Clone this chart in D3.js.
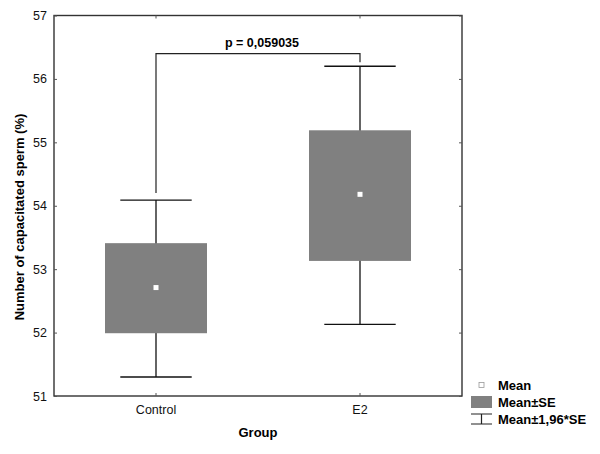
<!DOCTYPE html>
<html>
<head>
<meta charset="utf-8">
<script src="https://cdn.jsdelivr.net/npm/d3@7"></script>
<style>
  body { margin: 0; background: #fff; }
  text { font-family: "Liberation Sans", Arial, sans-serif; }
</style>
</head>
<body>
<div id="chart"></div>
<script>
const width = 600;
const height = 454;

// data
const groups = ["Control", "E2"];
const means = [52.71, 54.18];
const seLow = [51.99, 53.13];
const seHigh = [53.41, 55.19];
const ciLow = [51.30, 52.13];
const ciHigh = [54.09, 56.20];
const yTicks = [51, 52, 53, 54, 55, 56, 57];
const pLabel = "p = 0,059035";
const bracketY = 56.40;
const legendLabels = ["Mean", "Mean±SE", "Mean±1,96*SE"];

const plot = { left: 54, right: 462, top: 15.5, bottom: 396 };

const svg = d3.select("#chart")
    .append("svg")
    .attr("width", width)
    .attr("height", height);

const x = d3.scaleBand()
    .domain(groups)
    .range([plot.left, plot.right]);

const y = d3.scaleLinear()
    .domain([51, 57])
    .range([plot.bottom, plot.top]);

const cx = d => x(d) + x.bandwidth() / 2;
const boxW = x.bandwidth() * 0.5;
const capW = boxW * 0.7;

// frame
svg.append("rect")
    .attr("x", plot.left)
    .attr("y", plot.top)
    .attr("width", plot.right - plot.left)
    .attr("height", plot.bottom - plot.top)
    .attr("fill", "none")
    .attr("stroke", "#333")
    .attr("stroke-width", 1.4);

// axes (inward ticks)
const yAxis = d3.axisLeft(y).tickValues(yTicks).tickSize(-3).tickPadding(7).tickFormat(d3.format("d"));
const gy = svg.append("g").attr("transform", `translate(${plot.left},0)`).call(yAxis);
gy.select(".domain").remove();
gy.selectAll(".tick line").attr("stroke", "#555");
gy.selectAll("text").attr("font-size", 12.5).attr("fill", "#111");

const gyR = svg.append("g").attr("transform", `translate(${plot.right},0)`)
    .call(d3.axisRight(y).tickValues(yTicks).tickSize(-3).tickFormat(""));
gyR.select(".domain").remove();
gyR.selectAll(".tick line").attr("stroke", "#555");

const xAxis = d3.axisBottom(x).tickSize(-3).tickPadding(9);
const gx = svg.append("g").attr("transform", `translate(0,${plot.bottom})`).call(xAxis);
gx.select(".domain").remove();
gx.selectAll(".tick line").attr("stroke", "#555");
gx.selectAll("text").attr("font-size", 12.5).attr("fill", "#111");

const gxT = svg.append("g").attr("transform", `translate(0,${plot.top})`)
    .call(d3.axisTop(x).tickSize(-3).tickFormat(""));
gxT.select(".domain").remove();
gxT.selectAll(".tick line").attr("stroke", "#555");

// whiskers
const idx = groups.map((g, i) => i);
svg.selectAll(".whisker")
    .data(idx)
    .enter()
    .append("line")
    .attr("class", "whisker")
    .attr("x1", i => cx(groups[i]))
    .attr("x2", i => cx(groups[i]))
    .attr("y1", i => y(ciLow[i]))
    .attr("y2", i => y(ciHigh[i]))
    .attr("stroke", "#111")
    .attr("stroke-width", 1.3);

[ciLow, ciHigh].forEach(arr => {
    svg.selectAll(null)
        .data(idx)
        .enter()
        .append("line")
        .attr("x1", i => cx(groups[i]) - capW / 2)
        .attr("x2", i => cx(groups[i]) + capW / 2)
        .attr("y1", i => y(arr[i]))
        .attr("y2", i => y(arr[i]))
        .attr("stroke", "#111")
        .attr("stroke-width", 1.3);
});

// boxes
svg.selectAll(".box")
    .data(idx)
    .enter()
    .append("rect")
    .attr("class", "box")
    .attr("x", i => cx(groups[i]) - boxW / 2)
    .attr("width", boxW)
    .attr("y", i => y(seHigh[i]))
    .attr("height", i => y(seLow[i]) - y(seHigh[i]))
    .attr("fill", "#808080");

// mean markers
svg.selectAll(".mean")
    .data(idx)
    .enter()
    .append("rect")
    .attr("class", "mean")
    .attr("x", i => cx(groups[i]) - 2.5)
    .attr("y", i => y(means[i]) - 2.5)
    .attr("width", 5)
    .attr("height", 5)
    .attr("fill", "#fff");

// significance bracket
const bx1 = cx(groups[0]);
const bx2 = cx(groups[1]);
svg.append("path")
    .attr("d", `M${bx1},${y(ciHigh[0]) - 7}V${y(bracketY)}H${bx2}V${y(ciHigh[1]) - 4}`)
    .attr("fill", "none")
    .attr("stroke", "#222")
    .attr("stroke-width", 1.2);

svg.append("text")
    .attr("x", (bx1 + bx2) / 2 + 4)
    .attr("y", y(bracketY) - 6.5)
    .attr("text-anchor", "middle")
    .attr("font-size", 12.5)
    .attr("font-weight", "bold")
    .text(pLabel);

// axis titles
svg.append("text")
    .attr("transform", "translate(24,217) rotate(-90)")
    .attr("text-anchor", "middle")
    .attr("font-size", 13)
    .attr("font-weight", "bold")
    .text("Number of capacitated sperm (%)");

svg.append("text")
    .attr("x", 258)
    .attr("y", 437)
    .attr("text-anchor", "middle")
    .attr("font-size", 13)
    .attr("font-weight", "bold")
    .text("Group");

// legend
const lg = svg.append("g").attr("transform", "translate(471,380)");
lg.append("rect")
    .attr("x", 8).attr("y", 2.5).attr("width", 5).attr("height", 5)
    .attr("fill", "#fff").attr("stroke", "#999").attr("stroke-width", 0.8);
lg.append("rect")
    .attr("x", 0).attr("y", 16).attr("width", 21).attr("height", 12)
    .attr("fill", "#808080");
lg.append("path")
    .attr("d", "M0,34H21M10.5,34V44M0,44H21")
    .attr("fill", "none").attr("stroke", "#222").attr("stroke-width", 1.2);
lg.selectAll(".lt")
    .data(legendLabels)
    .enter()
    .append("text")
    .attr("class", "lt")
    .attr("x", 27)
    .attr("y", (d, i) => 9.5 + i * 17)
    .attr("font-size", 13)
    .attr("font-weight", "bold")
    .text(d => d);
</script>
</body>
</html>
